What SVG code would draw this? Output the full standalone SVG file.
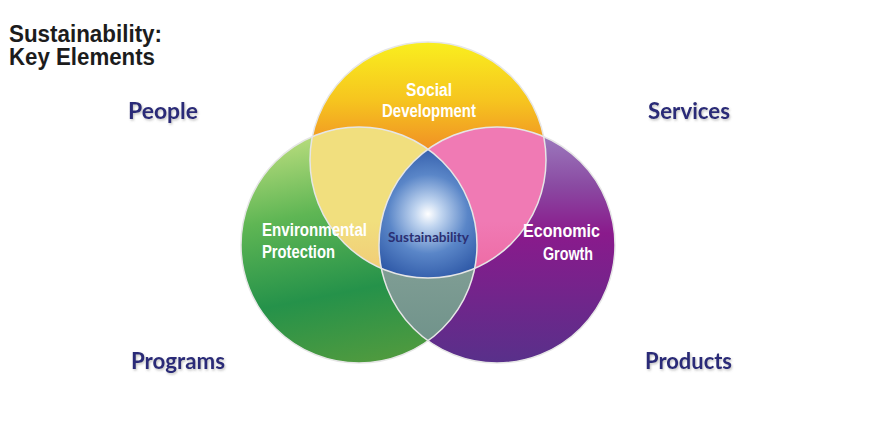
<svg xmlns="http://www.w3.org/2000/svg" width="890" height="426" viewBox="0 0 890 426">
<style>
.title{font-family:"Liberation Sans",Arial,sans-serif;font-weight:bold;font-size:23px;fill:#1c1c1c}
.in{font-family:"Liberation Sans",Arial,sans-serif;font-weight:bold;font-size:18px;fill:#ffffff}
.side{font-family:Lato,"Open Sans",sans-serif;font-weight:bold;font-size:22px;fill:#2b2c78;filter:url(#sh)}
.core{font-family:Lato,"Open Sans",sans-serif;font-weight:bold;font-size:12.5px;fill:#2b2f72}
.ring{fill:none;stroke:#e6e6e6;stroke-width:1.5}
</style>
<defs>
<filter id="sh" x="-10%" y="-20%" width="130%" height="150%">
<feDropShadow dx="1" dy="1.5" stdDeviation="0.8" flood-color="#777" flood-opacity="0.45"/>
</filter>
<linearGradient id="gTop" x1="0" y1="0" x2="0" y2="1">
<stop offset="0" stop-color="#f9ef1e"/>
<stop offset="0.25" stop-color="#f6c41f"/>
<stop offset="0.5" stop-color="#ef8526"/>
<stop offset="1" stop-color="#ec6f28"/>
</linearGradient>
<linearGradient id="gLeft" x1="0.3" y1="0" x2="0.5" y2="1">
<stop offset="0" stop-color="#bfdf80"/>
<stop offset="0.35" stop-color="#5fb654"/>
<stop offset="0.7" stop-color="#25924a"/>
<stop offset="1" stop-color="#4e9a3f"/>
</linearGradient>
<linearGradient id="gRight" x1="0" y1="0" x2="0" y2="1">
<stop offset="0" stop-color="#9f82c2"/>
<stop offset="0.25" stop-color="#8a4aa2"/>
<stop offset="0.45" stop-color="#8a1a8c"/>
<stop offset="1" stop-color="#58308a"/>
</linearGradient>
<linearGradient id="gYel" x1="0" y1="0" x2="0" y2="1">
<stop offset="0.4" stop-color="#f1df7e"/>
<stop offset="1" stop-color="#f0a86a"/>
</linearGradient>
<linearGradient id="gPink" x1="0" y1="0" x2="0" y2="1">
<stop offset="0.4" stop-color="#f07ab4"/>
<stop offset="1" stop-color="#e94f88"/>
</linearGradient>
<linearGradient id="gGray" x1="0" y1="0" x2="0" y2="1">
<stop offset="0.6" stop-color="#7f9d94"/>
<stop offset="1" stop-color="#6c9088"/>
</linearGradient>
<radialGradient id="gCore" cx="428" cy="214" r="72" gradientUnits="userSpaceOnUse">
<stop offset="0" stop-color="#ffffff"/>
<stop offset="0.18" stop-color="#c2d6f0"/>
<stop offset="0.55" stop-color="#5a86c8"/>
<stop offset="1" stop-color="#2c56a5"/>
</radialGradient>
<clipPath id="cTop"><circle cx="428" cy="160" r="118"/></clipPath>
<clipPath id="cLeft"><circle cx="359" cy="245" r="118"/></clipPath>
<clipPath id="cRight"><circle cx="497" cy="245" r="118"/></clipPath>
</defs>
<rect width="890" height="426" fill="#ffffff"/>

<g id="title">
<text class="title" x="9" y="41.5" textLength="153" lengthAdjust="spacingAndGlyphs">Sustainability:</text>
<text class="title" x="9" y="65" textLength="146" lengthAdjust="spacingAndGlyphs">Key Elements</text>
</g>

<g id="social">
<circle cx="428" cy="160" r="118" fill="url(#gTop)"/>
</g>
<g id="environmental">
<circle cx="359" cy="245" r="118" fill="url(#gLeft)"/>
</g>
<g id="economic">
<circle cx="497" cy="245" r="118" fill="url(#gRight)"/>
</g>

<g id="overlaps">
<g clip-path="url(#cTop)"><circle cx="359" cy="245" r="118" fill="url(#gYel)"/></g>
<g clip-path="url(#cTop)"><circle cx="497" cy="245" r="118" fill="url(#gPink)"/></g>
<g clip-path="url(#cLeft)"><circle cx="497" cy="245" r="118" fill="url(#gGray)"/></g>
</g>

<g id="sustainability">
<g clip-path="url(#cTop)"><g clip-path="url(#cLeft)"><circle cx="497" cy="245" r="118" fill="url(#gCore)"/></g></g>
</g>

<g id="outlines">
<circle class="ring" cx="428" cy="160" r="118"/>
<circle class="ring" cx="359" cy="245" r="118"/>
<circle class="ring" cx="497" cy="245" r="118"/>
</g>

<g id="labels">
<text class="in" x="429" y="96" text-anchor="middle" textLength="46" lengthAdjust="spacingAndGlyphs">Social</text>
<text class="in" x="429" y="117" text-anchor="middle" textLength="94" lengthAdjust="spacingAndGlyphs">Development</text>
<text class="in" x="262" y="236" textLength="105" lengthAdjust="spacingAndGlyphs">Environmental</text>
<text class="in" x="262" y="258" textLength="73" lengthAdjust="spacingAndGlyphs">Protection</text>
<text class="in" x="600" y="237" text-anchor="end" textLength="77" lengthAdjust="spacingAndGlyphs">Economic</text>
<text class="in" x="593" y="260" text-anchor="end" textLength="50" lengthAdjust="spacingAndGlyphs">Growth</text>
<text class="core" x="428.5" y="242" text-anchor="middle" textLength="81" lengthAdjust="spacingAndGlyphs">Sustainability</text>
</g>

<g id="people"><text class="side" x="128" y="119" textLength="70" lengthAdjust="spacingAndGlyphs">People</text></g>
<g id="services"><text class="side" x="648" y="119" textLength="82" lengthAdjust="spacingAndGlyphs">Services</text></g>
<g id="programs"><text class="side" x="131" y="369" textLength="94" lengthAdjust="spacingAndGlyphs">Programs</text></g>
<g id="products"><text class="side" x="645" y="369" textLength="87" lengthAdjust="spacingAndGlyphs">Products</text></g>
</svg>
